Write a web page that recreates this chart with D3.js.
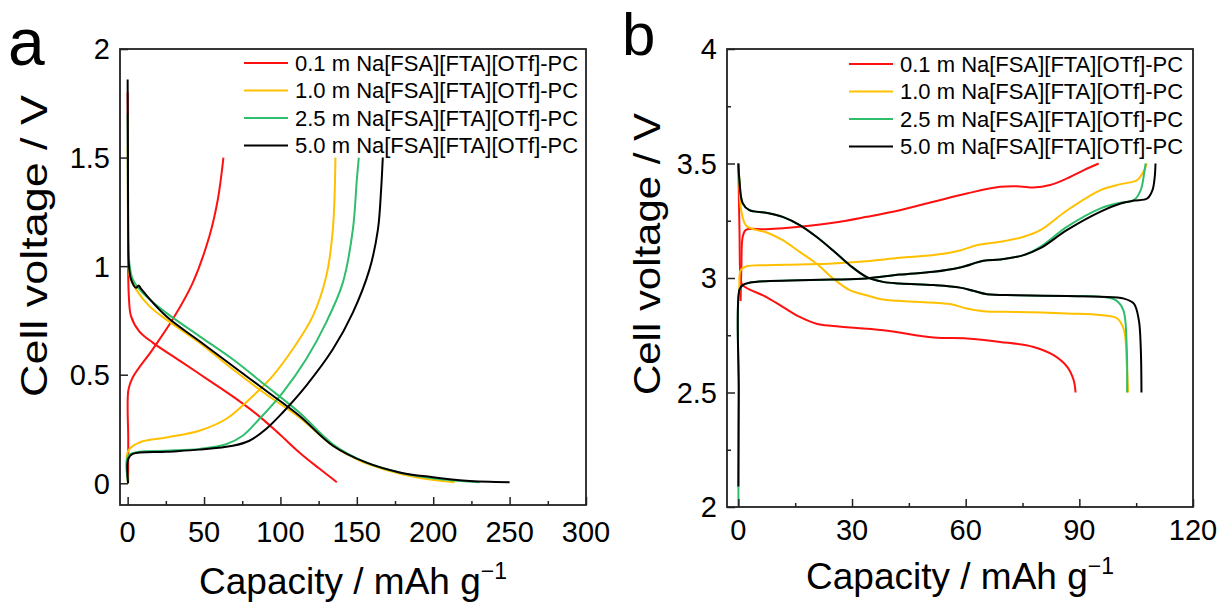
<!DOCTYPE html>
<html>
<head>
<meta charset="utf-8">
<script src="https://cdn.jsdelivr.net/npm/d3@7"></script>
<style>
body { margin: 0; background: #fff; }
text { font-family: 'Liberation Sans', Arial, sans-serif; fill: #000; }
</style>
</head>
<body>
<div class="chart"></div>
<script>
// series labels + colours (same in both panels)
const seriesNames = [
    '0.1 m Na[FSA][FTA][OTf]-PC',
    '1.0 m Na[FSA][FTA][OTf]-PC',
    '2.5 m Na[FSA][FTA][OTf]-PC',
    '5.0 m Na[FSA][FTA][OTf]-PC'
]
const seriesColors = ['#ff1010', '#ffc000', '#2fbf6c', '#000000']

// panel a : [capacity mAh/g, voltage V]
const aDis01 = [[0,1.80],[0.2,1.5],[0.3,1.0],[0.8,0.86],[2.2,0.77],[7.6,0.70],[16.4,0.648],[36,0.556],[52,0.48],[68.8,0.40],[85,0.315],[99.3,0.227],[112.4,0.142],[125,0.07],[136.9,0.005]]
const aChg01 = [[0.3,0],[0.4,0.2],[0.5,0.43],[3.3,0.487],[16.4,0.617],[29.5,0.755],[42.6,0.923],[53.5,1.138],[59,1.306],[62.7,1.5]]
const aDis10 = [[0,1.55],[0.2,1.3],[0.4,1.05],[1.5,0.95],[5.5,0.893],[14.2,0.816],[25.1,0.755],[46.9,0.648],[68.8,0.525],[90.6,0.41],[112.4,0.303],[134.3,0.173],[151.7,0.104],[167,0.066],[188.9,0.028],[214,0.005]]
const aChg10 = [[0.3,0],[0.4,0.15],[7.6,0.188],[25.1,0.211],[46.9,0.242],[64.4,0.296],[79.7,0.387],[95,0.495],[108,0.617],[121.2,0.77],[130,0.954],[134.3,1.168],[136,1.5]]
const aDis25 = [[0,1.7],[0.2,1.3],[0.5,1.1],[1.1,1.015],[3.3,0.94],[9.8,0.877],[25.1,0.786],[46.9,0.678],[68.8,0.571],[90.6,0.449],[112.4,0.326],[134.3,0.18],[156,0.096],[178,0.05],[199.8,0.023],[230.3,0.005]]
const aChg25 = [[0.3,0],[0.4,0.127],[7.6,0.145],[25.1,0.15],[46.9,0.158],[64.4,0.18],[75.3,0.219],[86.2,0.296],[101.5,0.418],[116.8,0.571],[129.9,0.74],[140.8,0.923],[147.4,1.168],[150,1.398],[151.3,1.5]]
const aDis50 = [[0,1.86],[0.2,1.5],[0.4,1.1],[0.7,1.015],[2.2,0.94],[5.5,0.9],[7.2,0.911],[8.7,0.896],[25.1,0.77],[46.9,0.655],[68.8,0.54],[90.6,0.426],[112.4,0.311],[134.3,0.173],[156,0.096],[178,0.05],[199.8,0.028],[221.6,0.012],[250,0.005]]
const aChg50 = [[0.3,0],[0.4,0.112],[3.3,0.135],[25.1,0.145],[46.9,0.155],[68.8,0.173],[79.7,0.196],[90.6,0.25],[101.5,0.326],[116.8,0.449],[134.3,0.617],[147.4,0.786],[158.3,0.985],[163.8,1.168],[165.9,1.352],[167,1.5]]

// panel b
const bDis01 = [[0,3.5],[0.3,3.2],[0.6,3.0],[1.1,2.969],[7.3,2.918],[11.7,2.874],[16.2,2.83],[20.6,2.80],[25,2.79],[38.2,2.772],[51.5,2.74],[60.3,2.736],[69.1,2.721],[77.9,2.699],[83.2,2.663],[86.8,2.612],[88.5,2.554],[89,2.5]]
const bChg01 = [[0.6,2.9],[0.8,3.05],[1.15,3.18],[2.0,3.21],[7.3,3.213],[16.2,3.224],[25,3.241],[33.8,3.267],[42.6,3.296],[51.5,3.333],[60.3,3.369],[69.1,3.398],[74.4,3.40],[77.9,3.395],[82.3,3.406],[86.8,3.435],[91.2,3.471],[95.1,3.5]]
const bDis10 = [[0,3.5],[0.26,3.43],[0.7,3.30],[2.0,3.23],[4.7,3.21],[7.3,3.20],[11.7,3.165],[16.2,3.114],[20.6,3.063],[25,2.998],[29.4,2.947],[33.8,2.925],[38.2,2.906],[47,2.896],[55.9,2.886],[60.3,2.867],[64.7,2.855],[73.5,2.852],[86.8,2.845],[95.6,2.838],[100,2.823],[101.8,2.772],[102.5,2.626],[102.9,2.5]]
const bChg10 = [[0.1,2.9],[0.26,2.96],[0.6,3.034],[2.0,3.05],[7.3,3.056],[16.2,3.059],[25,3.063],[33.8,3.073],[42.6,3.088],[51.5,3.10],[58.5,3.12],[62.9,3.143],[69.1,3.158],[75.3,3.18],[79.7,3.209],[86.8,3.296],[95.6,3.384],[100.9,3.41],[105.3,3.428],[107.1,3.471],[107.8,3.5]]
const bDis25 = [[0,3.5],[0.26,3.43],[1.15,3.326],[2.9,3.296],[7.3,3.285],[11.7,3.267],[16.2,3.231],[20.6,3.18],[25,3.12],[29.4,3.056],[33.8,3.005],[38.2,2.983],[42.6,2.976],[51.5,2.969],[58.5,2.958],[62,2.944],[65.6,2.929],[73.5,2.925],[86.8,2.921],[95.6,2.918],[99.6,2.903],[101.6,2.86],[102.5,2.70],[102.6,2.5]]
const bChg25 = [[0,2.0],[0.1,2.5],[0.3,2.95],[1.15,2.969],[2.9,2.979],[7.3,2.986],[16.2,2.99],[25,2.993],[33.8,2.998],[42.6,3.015],[51.5,3.027],[58.5,3.046],[64.7,3.075],[69.1,3.081],[75.3,3.10],[79.7,3.136],[86.8,3.224],[95.6,3.304],[100.9,3.329],[104.4,3.34],[106.2,3.384],[107.1,3.457],[107.5,3.5]]
const bDis50 = [[0,3.5],[0.26,3.43],[1.15,3.326],[2.9,3.296],[7.3,3.285],[11.7,3.267],[16.2,3.231],[20.6,3.18],[25,3.12],[29.4,3.056],[33.8,3.005],[38.2,2.983],[42.6,2.976],[51.5,2.969],[58.5,2.958],[62,2.944],[65.6,2.929],[73.5,2.925],[86.8,2.921],[95.6,2.918],[101.8,2.91],[104.4,2.888],[105.7,2.816],[106.2,2.70],[106.4,2.5]]
const bChg50 = [[0,2.09],[0.1,2.5],[0.3,2.95],[1.15,2.969],[2.9,2.979],[7.3,2.986],[16.2,2.99],[25,2.993],[33.8,2.998],[42.6,3.015],[51.5,3.027],[58.5,3.046],[64.7,3.075],[69.1,3.081],[75.3,3.10],[79.7,3.13],[86.8,3.21],[95.6,3.29],[100.9,3.325],[104.4,3.338],[107.9,3.347],[109.3,3.384],[109.9,3.442],[110.1,3.5]]

// ticks
const aXTicks = [0, 50, 100, 150, 200, 250, 300]
const aXMinor = [25, 75, 125, 175, 225, 275]
const aYTicks = [0, 0.5, 1, 1.5, 2]
const aYMinor = []
const bXTicks = [0, 30, 60, 90, 120]
const bXMinor = [15, 45, 75, 105]
const bYTicks = [2, 2.5, 3, 3.5, 4]
const bYMinor = [2.25, 2.75, 3.25, 3.75]

const width = 1225
const height = 605

const svg = d3.select('.chart')
    .append('svg')
    .attr('width', width)
    .attr('height', height)

const panels = [
    {
        letter: 'a', letterX: 8, letterY: 65, letterSize: 66,
        left: 120, right: 586, top: 49, bottom: 505,
        xDomain: [-5, 300], yDomain: [-0.1, 2],
        xTicks: aXTicks, xMinor: aXMinor, yTicks: aYTicks, yMinor: aYMinor,
        yTitleX: 47, yTitleY: 246, yTitleLen: 302, xTitleY: 594, xTickY: 542,
        legendX: 244, legendY: 63,
        series: [[aDis01, aChg01], [aDis10, aChg10], [aDis25, aChg25], [aDis50, aChg50]]
    },
    {
        letter: 'b', letterX: 622, letterY: 55, letterSize: 60,
        left: 727, right: 1193, top: 49, bottom: 507,
        xDomain: [-3, 120], yDomain: [2, 4],
        xTicks: bXTicks, xMinor: bXMinor, yTicks: bYTicks, yMinor: bYMinor,
        yTitleX: 660, yTitleY: 254, yTitleLen: 282, xTitleY: 589, xTickY: 540,
        legendX: 849, legendY: 64,
        series: [[bDis01, bChg01], [bDis10, bChg10], [bDis25, bChg25], [bDis50, bChg50]]
    }
]

panels.forEach(p => {
    const x = d3.scaleLinear().domain(p.xDomain).range([p.left, p.right])
    const y = d3.scaleLinear().domain(p.yDomain).range([p.bottom, p.top])
    const g = svg.append('g')

    const line = d3.line()
        .x(d => x(d[0]))
        .y(d => y(d[1]))
        .curve(d3.curveCatmullRom.alpha(0.5))

    // curves, black last so it sits on top
    p.series.forEach((pair, i) => {
        pair.forEach(arr => {
            g.append('path')
                .datum(arr)
                .attr('fill', 'none')
                .attr('stroke', seriesColors[i])
                .attr('stroke-width', 2)
                .attr('stroke-linejoin', 'round')
                .attr('d', line)
        })
    })

    // inward ticks
    const xAxis = g.append('g')
        .attr('transform', `translate(0,${p.bottom})`)
        .call(d3.axisBottom(x).tickValues(p.xTicks).tickSize(-8).tickFormat(''))
    xAxis.select('.domain').remove()
    const xMinorAxis = g.append('g')
        .attr('transform', `translate(0,${p.bottom})`)
        .call(d3.axisBottom(x).tickValues(p.xMinor).tickSize(-4).tickFormat(''))
    xMinorAxis.select('.domain').remove()
    const yAxis = g.append('g')
        .attr('transform', `translate(${p.left},0)`)
        .call(d3.axisLeft(y).tickValues(p.yTicks).tickSize(-8).tickFormat(''))
    yAxis.select('.domain').remove()
    const yMinorAxis = g.append('g')
        .attr('transform', `translate(${p.left},0)`)
        .call(d3.axisLeft(y).tickValues(p.yMinor).tickSize(-4).tickFormat(''))
    yMinorAxis.select('.domain').remove()
    g.selectAll('.tick line').attr('stroke', '#222').attr('stroke-width', 1.5)

    // frame
    g.append('rect')
        .attr('x', p.left)
        .attr('y', p.top)
        .attr('width', p.right - p.left)
        .attr('height', p.bottom - p.top)
        .attr('fill', 'none')
        .attr('stroke', '#222')
        .attr('stroke-width', 1.8)

    // tick labels
    g.selectAll('.xlab')
        .data(p.xTicks)
        .enter().append('text')
        .attr('x', d => x(d))
        .attr('y', p.xTickY)
        .attr('text-anchor', 'middle')
        .attr('font-size', 29)
        .text(d => d)
    g.selectAll('.ylab')
        .data(p.yTicks)
        .enter().append('text')
        .attr('x', p.left - 10)
        .attr('y', d => y(d))
        .attr('dy', '0.36em')
        .attr('text-anchor', 'end')
        .attr('font-size', 29)
        .text(d => d)

    // titles
    const xt = g.append('text')
        .attr('x', (p.left + p.right) / 2)
        .attr('y', p.xTitleY)
        .attr('text-anchor', 'middle')
        .attr('font-size', 37)
    xt.append('tspan').text('Capacity / mAh g')
    xt.append('tspan').attr('font-size', 23).attr('dy', -15).text('\u22121')

    g.append('text')
        .attr('transform', `translate(${p.yTitleX},${p.yTitleY}) rotate(-90)`)
        .attr('text-anchor', 'middle')
        .attr('font-size', 37)
        .attr('textLength', p.yTitleLen)
        .attr('lengthAdjust', 'spacingAndGlyphs')
        .text('Cell voltage / V')

    g.append('text')
        .attr('x', p.letterX)
        .attr('y', p.letterY)
        .attr('font-size', p.letterSize)
        .text(p.letter)

    // legend
    const lg = g.append('g')
        .attr('transform', `translate(${p.legendX},${p.legendY})`)
    seriesNames.forEach((name, i) => {
        lg.append('line')
            .attr('x1', 0).attr('x2', 44)
            .attr('y1', i * 27.5).attr('y2', i * 27.5)
            .attr('stroke', seriesColors[i])
            .attr('stroke-width', 2)
        lg.append('text')
            .attr('x', 51)
            .attr('y', i * 27.5)
            .attr('dy', '0.36em')
            .attr('font-size', 22)
            .text(name)
    })
})
</script>
</body>
</html>
